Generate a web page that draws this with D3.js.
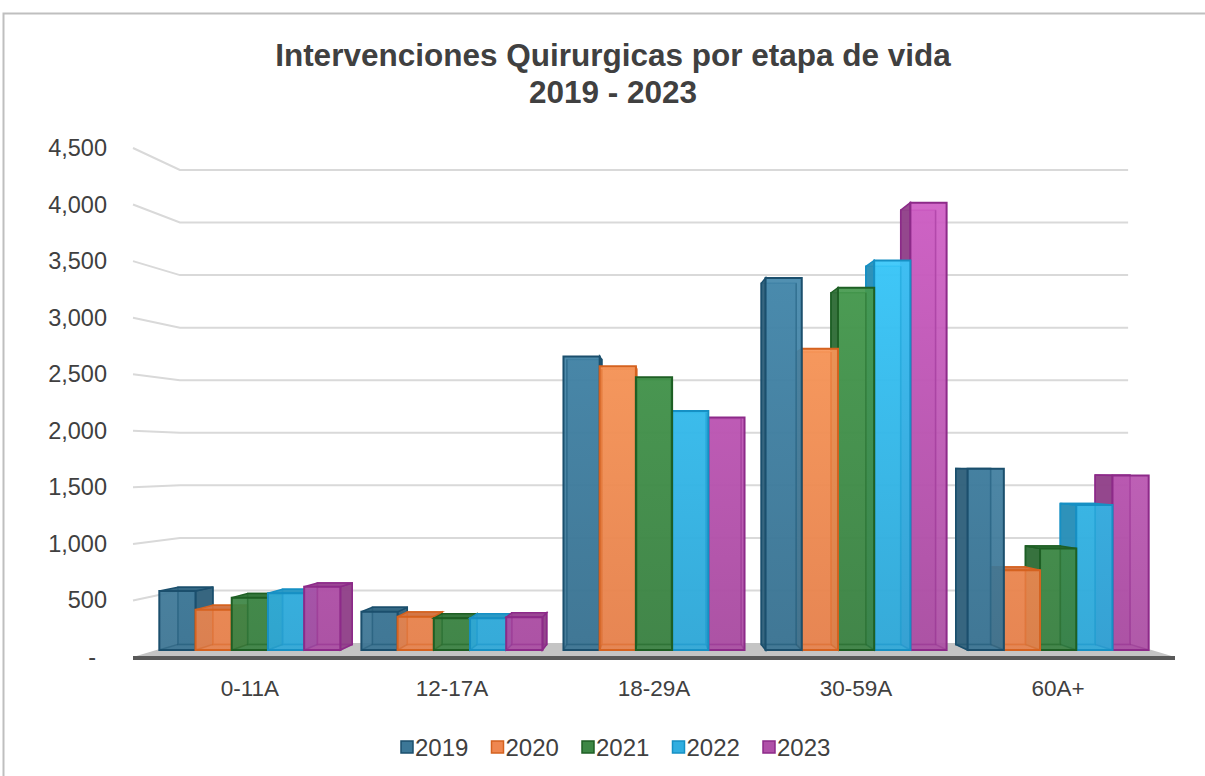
<!DOCTYPE html>
<html>
<head>
<meta charset="utf-8">
<script src="https://cdnjs.cloudflare.com/ajax/libs/d3/7.8.5/d3.min.js"></script>
<style>
  body { margin: 0; background: #fff; }
  text { font-family: "Liberation Sans", Arial, sans-serif; }
</style>
</head>
<body>
<div id="chart"></div>
<script>
// data
const categories = ["0-11A", "12-17A", "18-29A", "30-59A", "60A+"];
const years = ["2019", "2020", "2021", "2022", "2023"];
const v2019 = [540, 350, 2690, 3410, 1660];
const v2020 = [370, 305, 2600, 2760, 730];
const v2021 = [480, 290, 2500, 3320, 930];
const v2022 = [520, 290, 2190, 3570, 1330];
const v2023 = [580, 300, 2130, 4100, 1600];
const yTicks = [0, 500, 1000, 1500, 2000, 2500, 3000, 3500, 4000, 4500];

const seriesValues = [v2019, v2020, v2021, v2022, v2023];
const fills   = ["#3c7797", "#ef8750", "#3d8745", "#31aee0", "#b050a8"];
const strokes = ["#1b4f6d", "#d5621f", "#1e5f24", "#1690c4", "#8d2a89"];

const width = 1205, height = 776;

const svg = d3.select("#chart").append("svg")
    .attr("width", width)
    .attr("height", height);

// chart frame
svg.append("rect")
    .attr("x", 3.5).attr("y", 13.5)
    .attr("width", 1210).attr("height", 800)
    .attr("fill", "#fff")
    .attr("stroke", "#bfbfbf").attr("stroke-width", 2);

// title
const title = svg.append("text")
    .attr("text-anchor", "middle")
    .attr("font-weight", "bold")
    .attr("font-size", 31.5)
    .attr("fill", "#404040");
title.append("tspan").attr("x", 613).attr("y", 66).text("Intervenciones Quirurgicas por etapa de vida");
title.append("tspan").attr("x", 613).attr("y", 103).text("2019 - 2023");

// simple one-point perspective: depth f in [0,1], 0 = front plane, 1 = back wall
const VX = 654, VY = 459, KX = 0.09, KY = 0.0707;
const proj = (x, y, f) => [x + KX * f * (VX - x), y + KY * f * (VY - y)];
const F1 = 0.5, F2 = 0.9;   // bar front / back depth

const y = d3.scaleLinear().domain([0, 4500]).range([657, 148]);
const x = d3.scaleBand().domain(categories).range([125, 1183])
    .paddingInner(0.104).paddingOuter(0.052);
const xs = d3.scaleBand().domain(years).range([0, x.bandwidth()]);

const X0 = 133, X1 = 1175;   // front edge of floor / side wall

// gridlines on side wall and back wall
const grid = svg.append("g");
yTicks.filter(t => t > 0).forEach(t => {
  const a = proj(X0, y(t), 0), b = proj(X0, y(t), 1), c = proj(X1, y(t), 1);
  grid.append("polyline")
      .attr("points", [a, b, c].map(p => p.join(",")).join(" "))
      .attr("fill", "none")
      .attr("stroke", "#d9d9d9")
      .attr("stroke-width", 2);
});

// floor
const floorPts = [proj(X0, y(0), 0), proj(X1, y(0), 0), proj(X1, y(0), 1), proj(X0, y(0), 1)];
svg.append("polygon")
    .attr("points", floorPts.map(p => p.join(",")).join(" "))
    .attr("fill", "#c4c4c4");
svg.append("rect")
    .attr("x", X0).attr("y", y(0) - 1)
    .attr("width", X1 - X0).attr("height", 4)
    .attr("fill", "#595959");

// gradients (lighter towards the top of tall bars)
const defs = svg.append("defs");
years.forEach((yr, i) => {
  const g = defs.append("linearGradient")
      .attr("id", "grad" + yr)
      .attr("gradientUnits", "userSpaceOnUse")
      .attr("x1", 0).attr("y1", 650).attr("x2", 0).attr("y2", 200);
  g.append("stop").attr("offset", 0).attr("stop-color", d3.color(fills[i]).darker(0.1));
  g.append("stop").attr("offset", 1).attr("stop-color", d3.color(fills[i]).brighter(0.45));
});

// bars
let bars = [];
categories.forEach((cat, ci) => {
  years.forEach((yr, si) => {
    bars.push({ cat, yr, si, value: seriesValues[si][ci] });
  });
});
bars.forEach(d => {
  d.x0 = x(d.cat) + xs(d.yr);
  d.x1 = d.x0 + xs.bandwidth();
  d.cx = proj((d.x0 + d.x1) / 2, 0, F1)[0];
});
bars.sort((a, b) => Math.abs(b.cx - VX) - Math.abs(a.cx - VX));

const pts = arr => arr.map(p => p.join(",")).join(" ");
const barG = svg.append("g");

bars.forEach(d => {
  const yt = y(d.value), yb = y(0);
  const fTL = proj(d.x0, yt, F1), fTR = proj(d.x1, yt, F1);
  const fBL = proj(d.x0, yb, F1), fBR = proj(d.x1, yb, F1);
  const bTL = proj(d.x0, yt, F2), bTR = proj(d.x1, yt, F2);
  const bBL = proj(d.x0, yb, F2), bBR = proj(d.x1, yb, F2);
  const col = fills[d.si], st = strokes[d.si];
  const g = barG.append("g");

  // back face
  g.append("polygon").attr("points", pts([bTL, bTR, bBR, bBL]))
      .attr("fill", d3.color(col).darker(0.6)).attr("fill-opacity", 0.5)
      .attr("stroke", st).attr("stroke-width", 1.5);

  // side face
  const side = d.cx < VX ? [fTR, bTR, bBR, fBR] : [bTL, fTL, fBL, bBL];
  g.append("polygon").attr("points", pts(side))
      .attr("fill", d3.color(col).darker(0.55)).attr("fill-opacity", 0.95)
      .attr("stroke", st).attr("stroke-width", 1.5);

  // top face, when seen from above
  if (fTL[1] > bTL[1] + 0.5) {
    g.append("polygon").attr("points", pts([fTL, fTR, bTR, bTL]))
        .attr("fill", d3.color(col).darker(0.35))
        .attr("stroke", st).attr("stroke-width", 1.5);
  }

  // front face
  g.append("polygon").attr("points", pts([fTL, fTR, fBR, fBL]))
      .attr("fill", "url(#grad" + d.yr + ")").attr("fill-opacity", 0.93)
      .attr("stroke", st).attr("stroke-width", 2);

  // back edges seen through the glassy front
  g.append("polyline").attr("points", pts([bTL, bBL, bBR, bTR]))
      .attr("fill", "none").attr("stroke", st)
      .attr("stroke-opacity", 0.35).attr("stroke-width", 1.5);
  g.append("line")
      .attr("x1", fBL[0]).attr("y1", fBL[1]).attr("x2", bBL[0]).attr("y2", bBL[1])
      .attr("stroke", st).attr("stroke-opacity", 0.35).attr("stroke-width", 1.5);
  g.append("line")
      .attr("x1", fBR[0]).attr("y1", fBR[1]).attr("x2", bBR[0]).attr("y2", bBR[1])
      .attr("stroke", st).attr("stroke-opacity", 0.35).attr("stroke-width", 1.5);
});

// y labels
svg.append("g").selectAll("text")
    .data(yTicks)
    .join("text")
      .attr("x", t => t === 0 ? 96 : 107)
      .attr("y", t => y(t) + 8)
      .attr("text-anchor", "end")
      .attr("font-size", 23.5)
      .attr("fill", "#404040")
      .text(t => t === 0 ? "-" : d3.format(",")(t));

// category labels
svg.append("g").selectAll("text")
    .data(categories)
    .join("text")
      .attr("x", c => proj(x(c) + x.bandwidth() / 2, 0, F1)[0])
      .attr("y", 696)
      .attr("text-anchor", "middle")
      .attr("font-size", 22.5)
      .attr("fill", "#404040")
      .text(c => c);

// legend
const legend = svg.append("g");
years.forEach((yr, i) => {
  const lx = 401 + i * 90.5;
  legend.append("rect")
      .attr("x", lx).attr("y", 741)
      .attr("width", 12).attr("height", 12)
      .attr("fill", fills[i]).attr("stroke", strokes[i]).attr("stroke-width", 1.5);
  legend.append("text")
      .attr("x", lx + 14).attr("y", 755.5)
      .attr("font-size", 24)
      .attr("fill", "#404040")
      .text(yr);
});
</script>
</body>
</html>
